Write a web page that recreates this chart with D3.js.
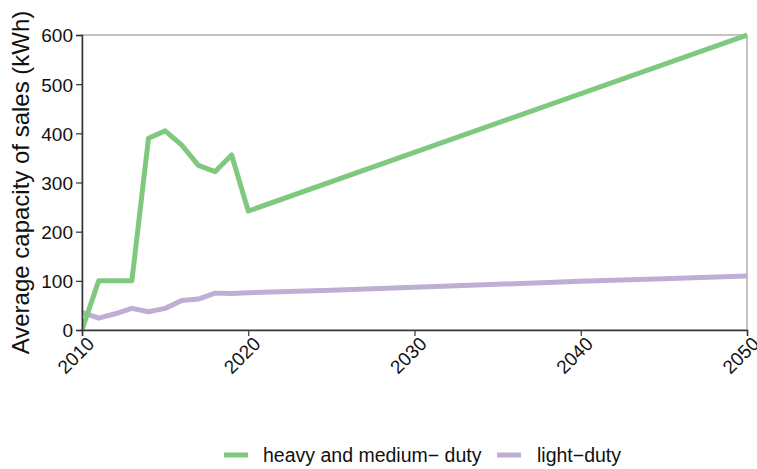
<!DOCTYPE html>
<html><head><meta charset="utf-8">
<script src="https://cdn.jsdelivr.net/npm/d3@7"></script>
<style>body{margin:0;background:#fff}svg{display:block}text{font-family:"Liberation Sans",Arial,Helvetica,sans-serif}</style>
</head><body>
<svg id="c" width="757" height="469"></svg>
<script>
const seriesNames = ["heavy and medium\u2212 duty", "light\u2212duty"];
const heavyYears = [2010,2011,2012,2013,2014,2015,2016,2017,2018,2019,2020,2050];
const heavyValues = [0,100,100,100,390,405,376,335,322,356,242,600];
const lightYears = [2010,2011,2012,2013,2014,2015,2016,2017,2018,2019,2020,2025,2030,2035,2040,2045,2050];
const lightValues = [36,24,33,44,37,44,60,63,75,74,76,81,87,93,99,104,110];
const xTicks = [2010,2020,2030,2040,2050];
const yTicks = [0,100,200,300,400,500,600];
const colors = ["#7fc97f","#beaed4"];

const svg = d3.select("#c");
const L=82,R=747,T=35,B=330;
const x = d3.scaleLinear().domain([2010,2050]).range([L,R]);
const y = d3.scaleLinear().domain([0,600]).range([B,T]);

// panel border
svg.append("rect").attr("x",L).attr("y",T).attr("width",R-L).attr("height",B-T)
  .attr("fill","none").attr("stroke","#888").attr("stroke-width",1);

const line = d3.line().x(d=>x(d[0])).y(d=>y(d[1]));
svg.append("clipPath").attr("id","clp").append("rect")
  .attr("x",L).attr("y",T-3).attr("width",R-L).attr("height",B-T+3);
const g = svg.append("g").attr("clip-path","url(#clp)");
g.append("path").datum(lightYears.map((d,i)=>[d,lightValues[i]]))
  .attr("d",line).attr("fill","none").attr("stroke",colors[1]).attr("stroke-width",5).attr("stroke-linejoin","round");
g.append("path").datum(heavyYears.map((d,i)=>[d,heavyValues[i]]))
  .attr("d",line).attr("fill","none").attr("stroke",colors[0]).attr("stroke-width",5).attr("stroke-linejoin","round");

// axes
const ya = svg.append("g").attr("transform",`translate(${L},0)`)
  .call(d3.axisLeft(y).tickValues(yTicks).tickSize(6).tickPadding(3));
const xa = svg.append("g").attr("transform",`translate(0,${B})`)
  .call(d3.axisBottom(x).tickValues(xTicks).tickFormat(d3.format("d")).tickSize(6));
[ya,xa].forEach(a=>{a.select(".domain").attr("stroke","#333").attr("stroke-width",1.5);
  a.selectAll(".tick line").attr("stroke","#333").attr("stroke-width",1.2);
  a.selectAll("text").attr("fill","#111").style("font-size","19px");});
ya.selectAll(".tick text").attr("dy","0.36em");
xa.selectAll(".tick text").attr("y",0).attr("dy",0)
  .attr("text-anchor","end")
  .attr("transform","translate(13,15) rotate(-45)");

// y title
svg.append("text").attr("transform",`translate(29,${(T+B)/2}) rotate(-90)`)
  .attr("text-anchor","middle").style("font-size","24px").attr("fill","#111")
  .text("Average capacity of sales (kWh)");

// legend
const leg = [{x:224,tx:263},{x:497,tx:537}];
leg.forEach((p,i)=>{
  svg.append("line").attr("x1",p.x).attr("x2",p.x+24).attr("y1",455).attr("y2",455)
    .attr("stroke",colors[i]).attr("stroke-width",5);
  svg.append("text").attr("x",p.tx).attr("y",462).style("font-size","19.5px").attr("fill","#111")
    .text(seriesNames[i]);
});
</script>
</body></html>
